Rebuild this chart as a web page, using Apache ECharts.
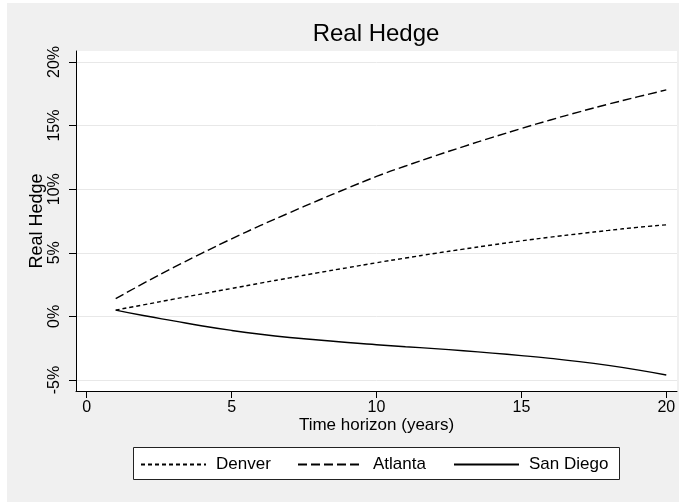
<!DOCTYPE html>
<html>
<head>
<meta charset="utf-8">
<script src="https://cdn.jsdelivr.net/npm/echarts@6/dist/echarts.min.js"></script>
<style>
  html, body { margin: 0; padding: 0; background: #fff; }
  #chart { width: 684px; height: 502px; }
</style>
</head>
<body>
<div id="chart"></div>
<script>
const years = [1, 2, 3, 4, 5, 6, 7, 8, 9, 10, 11, 12, 13, 14, 15, 16, 17, 18, 19, 20]
const denver = [0.5, 0.93, 1.36, 1.78, 2.2, 2.62, 3.03, 3.44, 3.83, 4.22, 4.59, 4.95, 5.29, 5.62, 5.94, 6.23, 6.5, 6.76, 7.0, 7.2]
const atlanta = [1.4, 2.65, 3.85, 5.0, 6.1, 7.15, 8.15, 9.13, 10.08, 11.0, 11.82, 12.6, 13.35, 14.07, 14.77, 15.44, 16.08, 16.68, 17.25, 17.8]
const sanDiego = [0.5, 0.05, -0.35, -0.75, -1.1, -1.4, -1.65, -1.85, -2.05, -2.22, -2.38, -2.53, -2.7, -2.88, -3.08, -3.3, -3.55, -3.85, -4.2, -4.6]
const xTicks = [0, 5, 10, 15, 20]
const yTicks = [-5, 0, 5, 10, 15, 20]

const font = 'Liberation Sans, Arial, sans-serif'

function pairs(vals) {
  return years.map((x, i) => [x, vals[i]])
}

const chart = echarts.init(document.getElementById('chart'))

const seriesDefs = [
  { name: 'Denver', data: denver, dash: [4, 3] },
  { name: 'Atlanta', data: atlanta, dash: [9, 4] },
  { name: 'San Diego', data: sanDiego, dash: 'solid' }
]

// one legend per column, stata style fixed column widths
const legendLeft = [140, 297, 453]
const legends = seriesDefs.map((s, i) => ({
  show: true,
  left: legendLeft[i],
  top: 456,
  padding: 0,
  itemWidth: 65,
  itemHeight: 16,
  itemStyle: { opacity: 0 },
  textStyle: {
    fontFamily: font,
    fontSize: 17,
    color: '#000',
    padding: [0, 0, 0, 5]
  },
  data: [s.name]
}))

const option = {
  animation: false,
  backgroundColor: '#fff',
  graphic: [
    {
      type: 'rect',
      z: -10,
      shape: { x: 7, y: 3, width: 672, height: 499 },
      style: { fill: '#f0f0f0' }
    },
    {
      type: 'rect',
      z: -5,
      shape: { x: 133.5, y: 447.5, width: 486, height: 32 },
      style: { fill: '#fff', stroke: '#222', lineWidth: 1 }
    }
  ],
  title: {
    text: 'Real Hedge',
    left: 371,
    textAlign: 'center',
    top: 17,
    textStyle: {
      fontFamily: font,
      fontSize: 24,
      fontWeight: 'normal',
      color: '#000'
    }
  },
  grid: {
    left: 76,
    right: 7,
    top: 51,
    bottom: 111,
    show: true,
    backgroundColor: '#fff',
    borderWidth: 0
  },
  legend: legends,
  xAxis: {
    type: 'value',
    min: -0.37,
    max: 20.37,
    name: 'Time horizon (years)',
    nameLocation: 'middle',
    nameGap: 26,
    nameMoveOverlap: false,
    nameTextStyle: { fontFamily: font, fontSize: 17, color: '#000' },
    axisLine: { show: true, onZero: false, lineStyle: { color: '#000', width: 1 } },
    axisTick: { show: true, length: 7, customValues: xTicks, lineStyle: { color: '#000' } },
    axisLabel: {
      customValues: xTicks,
      margin: 9,
      fontFamily: font,
      fontSize: 16,
      color: '#000'
    },
    splitLine: { show: false }
  },
  yAxis: {
    type: 'value',
    min: -5.86,
    max: 20.86,
    name: 'Real Hedge',
    nameLocation: 'middle',
    nameGap: 30,
    nameMoveOverlap: false,
    nameRotate: 90,
    nameTextStyle: { fontFamily: font, fontSize: 18, color: '#000' },
    axisLine: { show: true, onZero: false, lineStyle: { color: '#000', width: 1 } },
    axisTick: { show: true, length: 7, customValues: yTicks, lineStyle: { color: '#000' } },
    axisLabel: {
      customValues: yTicks,
      rotate: 90,
      margin: 13,
      fontFamily: font,
      fontSize: 16,
      color: '#000',
      formatter: v => v + '%'
    },
    splitLine: { show: true, lineStyle: { color: '#e8e8e8', width: 1 } }
  },
  series: seriesDefs.map(s => ({
    name: s.name,
    type: 'line',
    data: pairs(s.data),
    smooth: true,
    showSymbol: false,
    symbol: 'none',
    color: '#000',
    lineStyle: { color: '#000', width: 1.4, type: s.dash }
  }))
}

chart.setOption(option)
</script>
</body>
</html>
